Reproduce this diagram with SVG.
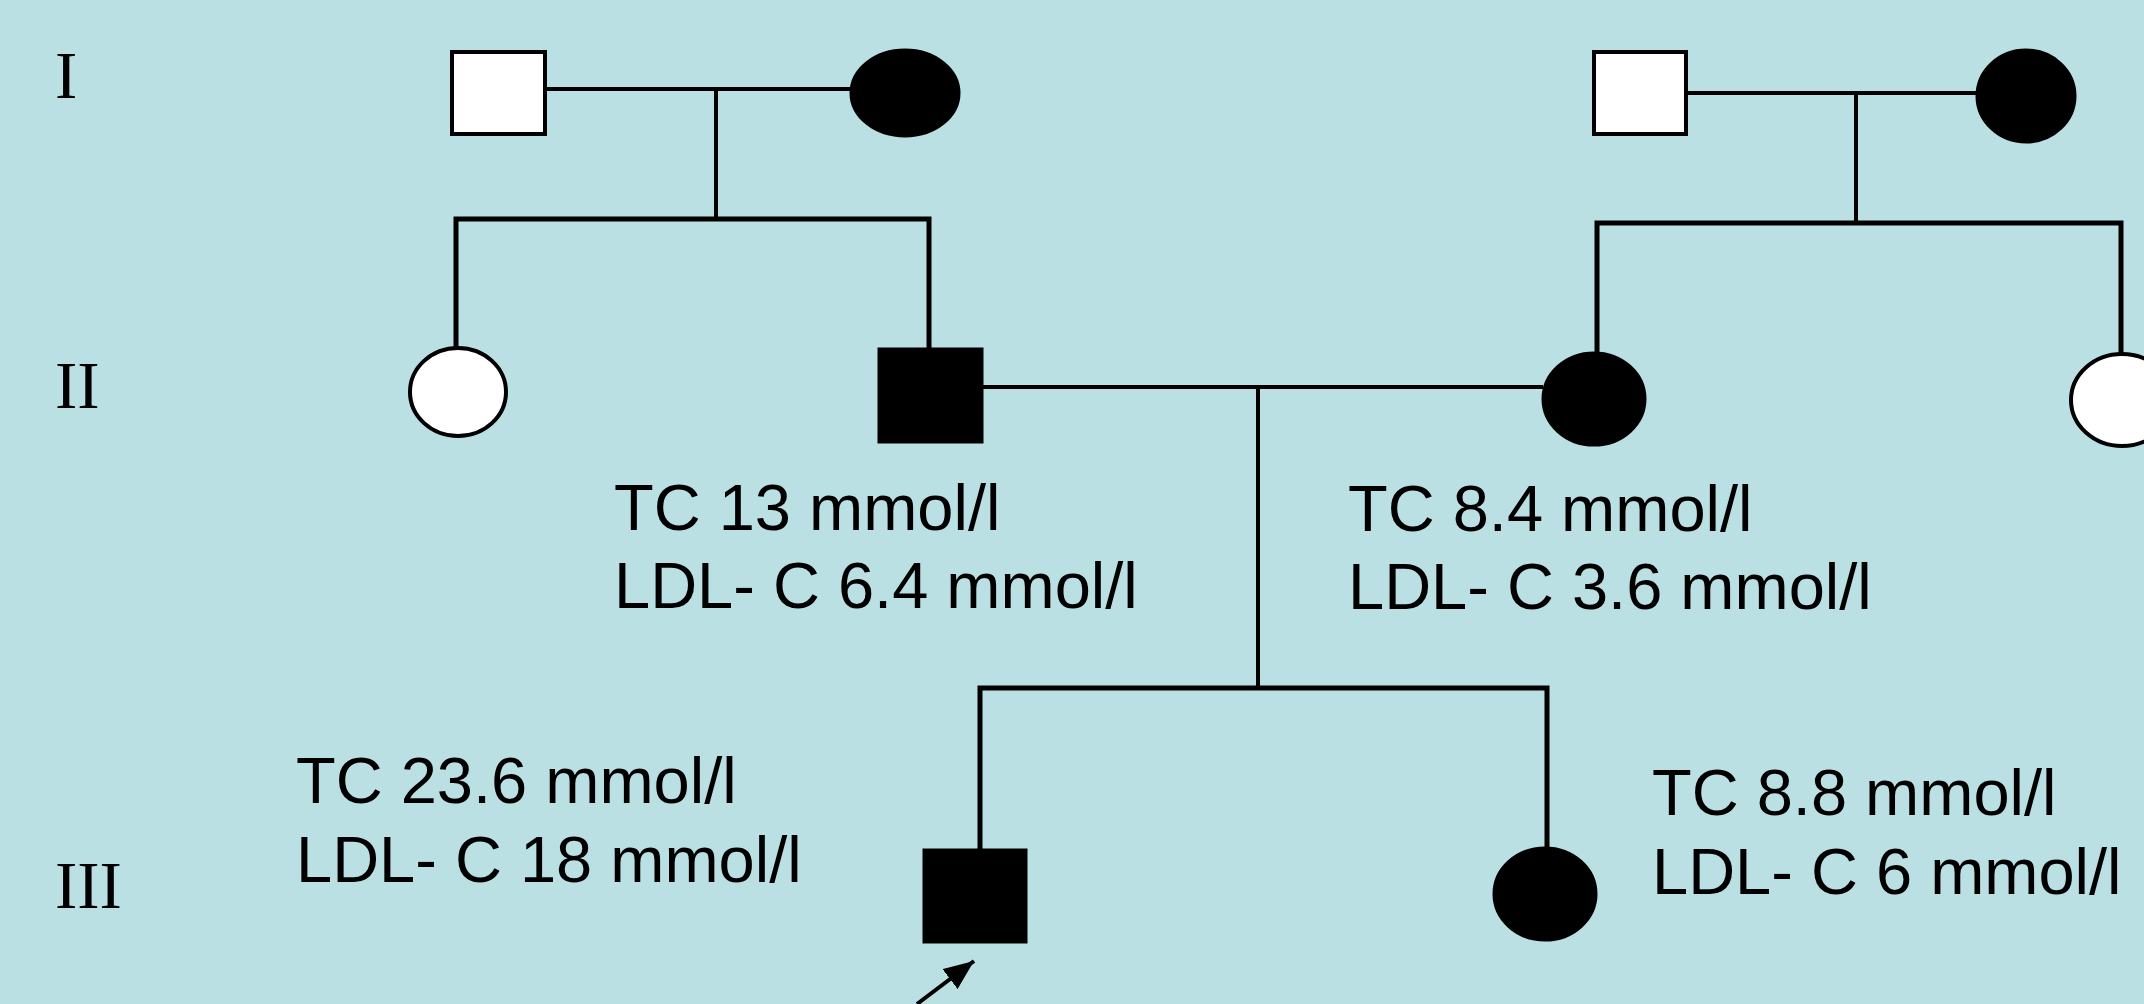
<svg xmlns="http://www.w3.org/2000/svg" width="2144" height="1004" viewBox="0 0 2144 1004">
  <style>
    .line { stroke: #000; stroke-width: 4; fill: none; }
    .sib { stroke: #000; stroke-width: 5; fill: none; }
    .open { fill: #fff; stroke: #000; stroke-width: 4; }
    .filled { fill: #000; stroke: #000; stroke-width: 3; }
    .gen { font-family: "Liberation Serif", "Times New Roman", serif; font-size: 67px; fill: #000; }
    .lab { font-family: "Liberation Sans", Arial, sans-serif; font-size: 65px; fill: #000; }
  </style>
  <defs>
    <marker id="arrow" viewBox="0 0 12 10" refX="12" refY="5" markerWidth="30" markerHeight="25" markerUnits="userSpaceOnUse" orient="auto">
      <path d="M0,0 L12,5 L0,10 z" fill="#000"/>
    </marker>
  </defs>
  <rect x="0" y="0" width="2144" height="1004" fill="#bbe0e3"/>

  <g id="generation-labels">
    <text class="gen" x="55" y="98">I</text>
    <text class="gen" x="55" y="408">II</text>
    <text class="gen" x="55" y="908">III</text>
  </g>

  <g id="connectors">
    <line class="line" x1="545" y1="89" x2="852" y2="89"/>
    <line class="line" x1="716" y1="89" x2="716" y2="219"/>
    <polyline class="sib" points="456,348 456,219 929,219 929,348"/>
    <line class="line" x1="1686" y1="93" x2="1977" y2="93"/>
    <line class="line" x1="1856" y1="93" x2="1856" y2="223"/>
    <polyline class="sib" points="1597,352 1597,223 2121,223 2121,353"/>
    <line class="line" x1="982" y1="387" x2="1543" y2="387"/>
    <line class="line" x1="1258" y1="387" x2="1258" y2="687"/>
    <polyline class="sib" points="980,849 980,688 1547,688 1547,847"/>
    <line x1="917" y1="1004" x2="974" y2="961" stroke="#000" stroke-width="4" marker-end="url(#arrow)"/>
  </g>

  <g id="I-1"><rect class="open" x="452" y="52" width="93" height="82"/></g>
  <g id="I-2"><ellipse class="filled" cx="905" cy="93" rx="54" ry="43"/></g>
  <g id="I-3"><rect class="open" x="1594" y="52" width="92" height="82"/></g>
  <g id="I-4"><ellipse class="filled" cx="2026" cy="96" rx="49" ry="46"/></g>

  <g id="II-1"><ellipse class="open" cx="458" cy="392" rx="48" ry="44"/></g>
  <g id="II-2">
    <rect class="filled" x="879" y="349" width="103" height="93"/>
    <text class="lab" x="614" y="530">TC 13 mmol/l</text>
    <text class="lab" x="614" y="608">LDL- C 6.4 mmol/l</text>
  </g>
  <g id="II-3">
    <ellipse class="filled" cx="1594" cy="399" rx="51" ry="46"/>
    <text class="lab" x="1348" y="531">TC 8.4 mmol/l</text>
    <text class="lab" x="1348" y="609">LDL- C 3.6 mmol/l</text>
  </g>
  <g id="II-4"><ellipse class="open" cx="2122" cy="400" rx="51" ry="46"/></g>

  <g id="III-1">
    <rect class="filled" x="924" y="850" width="102" height="92"/>
    <text class="lab" x="296" y="803">TC 23.6 mmol/l</text>
    <text class="lab" x="296" y="882">LDL- C 18 mmol/l</text>
  </g>
  <g id="III-2">
    <ellipse class="filled" cx="1545" cy="894" rx="51" ry="46"/>
    <text class="lab" x="1652" y="815">TC 8.8 mmol/l</text>
    <text class="lab" x="1652" y="894">LDL- C 6 mmol/l</text>
  </g>
</svg>
